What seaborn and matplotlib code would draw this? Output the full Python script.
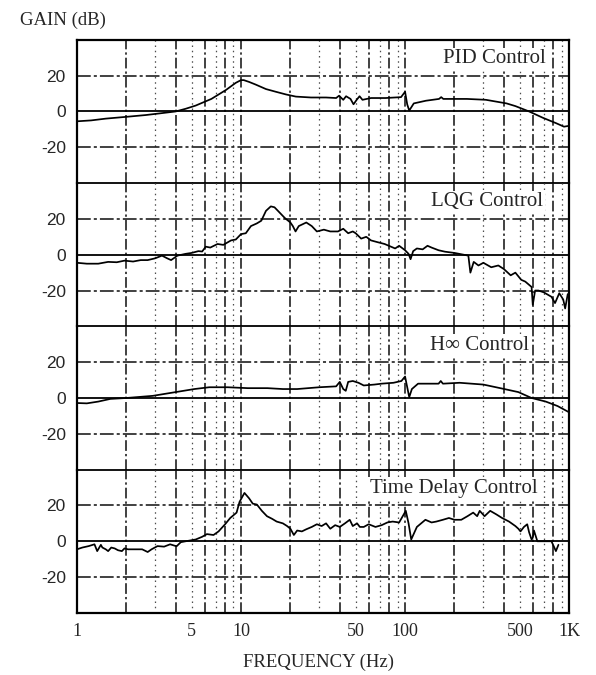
import numpy as np
import pandas as pd
import matplotlib
matplotlib.use("Agg")
import matplotlib.pyplot as plt
import seaborn as sns

# ---------------- data (frequency in Hz, gain in dB) ----------------
pid_f = [1.0, 1.22, 1.5, 2.0, 2.63, 3.25, 4.0, 4.6, 5.3, 6.6, 8.1, 9.3, 10.0, 10.4, 11.2,
         12.3, 14.2, 16.3, 18.8, 21.6, 26.7, 33, 38, 39.6, 42, 43.7, 46.5, 48.5, 50.7, 52.8,
         55, 62, 76, 94.5, 100, 103, 106, 113, 134, 161, 166, 171, 238, 311, 415, 470, 570,
         690, 830, 930, 1000]
pid_g = [-5.5, -5, -4, -3, -2, -1, 0, 1.5, 3.3, 7, 12, 16, 17.5, 17.5, 16.5,
         15, 12.5, 11, 9.5, 8.3, 7.8, 7.8, 7.5, 8.8, 6.5, 8.5, 7, 4, 6.5, 8.5,
         6.5, 7.5, 7.5, 8, 11, 4, 0.5, 4.5, 6, 7, 8, 7, 7, 6.5, 4.5, 3, 0,
         -3.5, -6.5, -8.5, -8]

lqg_f = [1.0, 1.15, 1.35, 1.55, 1.75, 1.95, 2.2, 2.45, 2.7, 3.0, 3.3, 3.55, 3.75, 4.1, 4.6,
         5.0, 5.5, 5.8, 6.1, 6.5, 7.2, 7.8, 8.7, 9.3, 10, 10.7, 11.5, 12.5, 13.3, 14.2,
         15.2, 16.0, 16.8, 18.5, 20, 20.7, 21.5, 22.5, 25, 27, 29, 32, 35, 39, 42,
         45, 48, 50, 54, 58, 62, 68, 75, 82, 87, 92, 100, 105, 108, 112,
         118, 128, 137, 145, 160, 175, 200, 243, 250, 262, 280, 300, 335, 370, 400,
         440, 470, 510, 540, 590, 600, 620, 650, 700, 780, 820, 870, 920, 945, 980]
lqg_g = [-4.5, -5, -5, -4, -4.2, -3.3, -3.8, -3, -3, -2, -0.5, -2, -3, -0.5, 0.5,
         1, 2, 1.8, 4.5, 4, 6, 5.5, 8, 8.5, 11.5, 12, 16, 17.5, 19, 24.5,
         27, 26.5, 24.5, 20.5, 18, 16, 13, 16, 18, 16, 13, 14, 13, 13, 14.5,
         12, 13, 12, 9, 10, 8, 7, 6, 4.5, 3.5, 5, 2.5, 0.5, -2.5, 2,
         3.5, 3, 5, 4, 2.5, 1.7, 1, -0.5, -10, -4, -6, -4.5, -7, -6, -8,
         -11.5, -10, -14, -15, -18, -28, -20, -20, -21, -23.5, -27, -21.5, -25, -30, -22]

hinf_f = [1.0, 1.15, 1.35, 1.6, 2.0, 2.9, 4.0, 5.2, 6.4, 8.3, 11, 14.5, 18, 22, 30,
          38, 40, 42, 43.5, 45, 48, 52, 56, 65, 72, 85, 95, 100, 102, 106,
          110, 120, 140, 160, 165, 170, 215, 300, 380, 490, 590, 720, 850, 1000]
hinf_g = [-2.8, -3, -2, -0.5, 0, 1.2, 3.3, 5, 6, 6, 5.5, 5.5, 5, 5, 6,
          6.5, 9, 5, 4, 9, 9.5, 8.5, 7, 7.5, 8, 8.5, 9.5, 12, 8, 0.5,
          5, 8, 8, 8, 9.5, 8, 8.5, 7.5, 5.5, 3.3, 0, -2, -4.5, -8]

td_f = [1.0, 1.08, 1.18, 1.28, 1.33, 1.4, 1.43, 1.5, 1.55, 1.62, 1.7, 1.78, 1.88, 1.95, 2.05,
        2.25, 2.5, 2.7, 2.85, 3.1, 3.4, 3.7, 4.05, 4.3, 4.6, 5.3, 5.8, 6.2, 6.8, 7.3,
        8.0, 8.6, 9.4, 9.8, 10.5, 11.2, 11.8, 12.5, 13.4, 14.4, 15.5, 16.5, 18, 19.1, 20,
        21, 22, 23.5, 25, 27, 29, 31, 33, 35, 37.5, 40, 43, 46, 48, 51,
        53, 56, 60, 66, 72, 78, 84, 92, 101, 105, 109, 118, 133, 145, 155,
        170, 185, 200, 220, 240, 260, 275, 285, 305, 330, 360, 390, 430, 470, 490,
        505, 530, 555, 570, 590, 600, 610, 640, 700, 780, 830, 860]
td_g = [-4.5, -3.5, -2.7, -1.7, -5.5, -2, -3.5, -4.5, -5.5, -3.5, -4, -5, -5.5, -4, -4.5,
        -4.5, -4.5, -6, -4.5, -2.7, -3, -1.7, -2.8, -0.5, 0, 1, 2.5, 4, 3.5, 5.5,
        9.5, 13, 16, 22, 27, 24, 21, 20.5, 17, 14, 12.5, 11, 10, 8.5, 7,
        3.5, 6, 5.5, 6.7, 8, 9.5, 8.5, 10, 7, 9, 8, 10, 12, 8.5, 10,
        8, 8, 9.5, 8, 9, 10.5, 11, 10.5, 17, 10, 1, 8, 12, 10.5, 11,
        12, 13, 12, 12, 14, 16, 14, 17, 14, 17, 15, 13, 11, 8.5, 7,
        5.5, 8, 9.5, 5, 1, 2, 6, 0, 0, 0, -5.5, -2]

titles = ["PID Control", "LQG Control", "H\u221e Control", "Time Delay Control"]
title_x = [724, 693, 570, 638]
xtick_vals = [1, 5, 10, 50, 100, 500, 1000]
xtick_labels = ["1", "5", "10", "50", "100", "500", "1K"]
ytick_vals = [-20, 0, 20]
ytick_labels = ["-20", "0", "20"]

series = [(pid_f, pid_g), (lqg_f, lqg_g), (hinf_f, hinf_g), (td_f, td_g)]

# ---------------- styling ----------------
sns.set_theme(style="white")
plt.rcParams["font.family"] = ["Liberation Serif", "DejaVu Serif"]

fig = plt.figure(figsize=(5.96, 6.75), dpi=100)
gs = fig.add_gridspec(4, 1, left=0.129, right=0.955, top=0.941, bottom=0.092, hspace=0)
axes = [fig.add_subplot(gs[i, 0]) for i in range(4)]

for i, ax in enumerate(axes):
    f, g = series[i]
    df = pd.DataFrame({"freq": f, "gain": g})
    ax.patch.set_visible(False)
    ax.set_xscale("log")
    ax.set_xlim(1, 1000)
    ax.set_ylim(-40, 40)

    # vertical grid lines (semilog paper)
    for dec in [1, 10, 100]:
        for m in range(2, 11):
            v = m * dec
            if m in (2, 4, 6, 8, 10):
                ax.axvline(v, color="0.05", lw=1.1, ls=(0, (7, 2, 1.5, 2)), zorder=1)
            else:
                ax.axvline(v, color="0.3", lw=0.9, ls=(0, (1.2, 3)), zorder=1)
    # horizontal lines
    ax.axhline(0, color="0.0", lw=1.3, zorder=1)
    for h in (20, -20):
        ax.axhline(h, color="0.05", lw=1.1, ls=(0, (9, 2, 2, 2)), zorder=1)

    sns.lineplot(data=df, x="freq", y="gain", ax=ax, color="black", lw=1.25,
                 sort=False, estimator=None, zorder=3)

    ax.set_xlabel("")
    ax.set_ylabel("")
    ax.set_yticks(ytick_vals)
    ax.set_yticklabels(ytick_labels, fontfamily="Liberation Sans", fontsize=12.5)
    ax.tick_params(axis="y", length=0, pad=8)
    ax.xaxis.set_minor_locator(matplotlib.ticker.NullLocator())
    ax.grid(False)

    for s in ax.spines.values():
        s.set_color("black")
        s.set_zorder(4)
    ax.spines["left"].set_linewidth(1.6)
    ax.spines["right"].set_linewidth(1.6)
    ax.spines["top"].set_linewidth(1.6 if i == 0 else 1.3)
    ax.spines["bottom"].set_linewidth(1.6 if i == 3 else 1.3)
    if i > 0:
        ax.spines["top"].set_visible(False)

    ax.text(title_x[i], 29.5, titles[i], ha="right", va="center", fontsize=15,
            zorder=5, bbox=dict(facecolor="white", edgecolor="none", pad=1.0))

    if i < 3:
        ax.tick_params(axis="x", length=0, labelbottom=False)
    else:
        ax.set_xticks(xtick_vals)
        ax.set_xticklabels(xtick_labels, fontsize=13)
        ax.tick_params(axis="x", length=0, pad=7)

fig.text(0.033, 0.970, "GAIN (dB)", ha="left", va="center", fontsize=13.5)
fig.text(0.535, 0.019, "FREQUENCY (Hz)", ha="center", va="center", fontsize=13.5)

fig.savefig("out.png", dpi=100, facecolor="white")
